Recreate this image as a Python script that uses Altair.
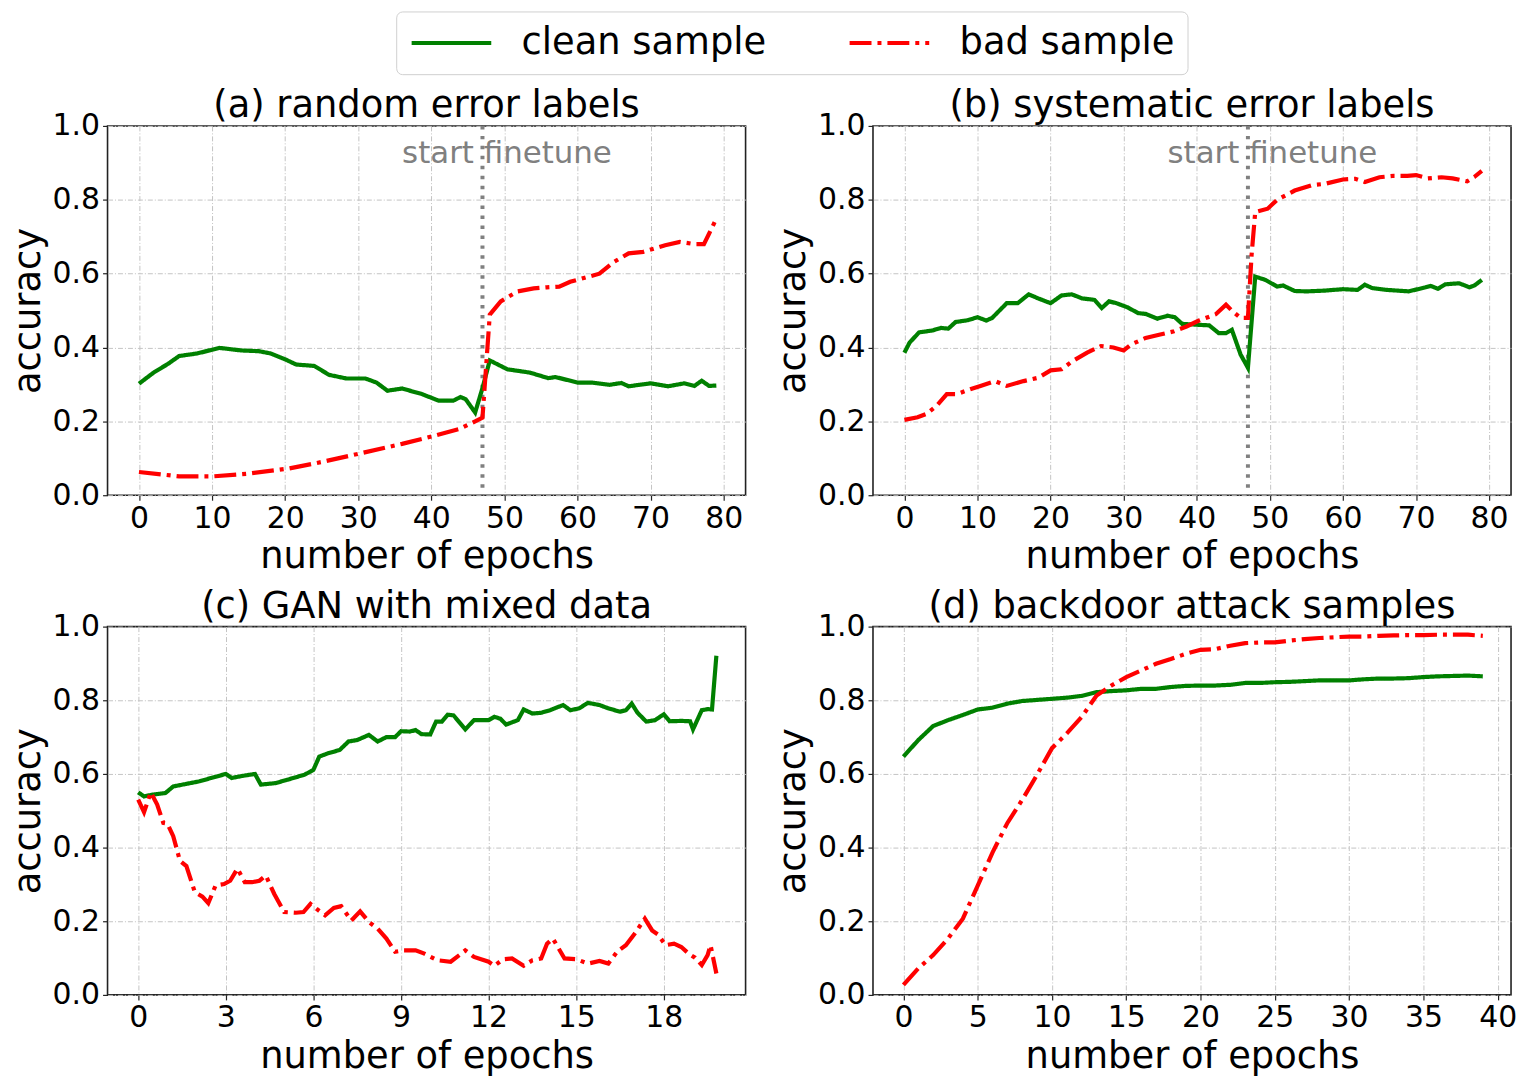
import altair as alt
import pandas as pd

FONT = "DejaVu Sans"
GREEN = "#008000"
RED = "#ff0000"
SERIES = ["clean sample", "bad sample"]

# ---------------- (a) random error labels ----------------
a_clean_x = [0, 2, 4, 5.5, 8, 11, 14, 16.4, 18, 20, 21.5, 24, 26, 28.4, 31, 32.5, 34, 36, 38.7, 41, 43, 44,
             44.7, 46, 47, 48, 50.4, 53.5, 56, 57, 60, 62, 64.4, 66, 67, 70, 72.4, 74.6, 76, 77, 78, 79]
a_clean_y = [0.302, 0.332, 0.356, 0.377, 0.384, 0.399, 0.392, 0.39, 0.384, 0.368, 0.354, 0.35, 0.326, 0.316,
             0.316, 0.305, 0.283, 0.289, 0.274, 0.256, 0.256, 0.266, 0.26, 0.224, 0.29, 0.365, 0.341, 0.332,
             0.317, 0.32, 0.305, 0.305, 0.299, 0.304, 0.295, 0.303, 0.295, 0.303, 0.296, 0.31, 0.296, 0.297]
a_bad_x = [0, 5.5, 10, 14.7, 20.4, 25, 30, 36, 40.4, 43.8, 46, 47, 48, 49.5, 51.8, 54, 55.8, 57.5, 59, 61, 63,
           65, 67, 69, 72, 74, 76, 77.3, 78, 79]
a_bad_y = [0.063, 0.051, 0.051, 0.058, 0.072, 0.09, 0.112, 0.139, 0.161, 0.179, 0.2, 0.21, 0.489, 0.525, 0.552,
           0.56, 0.563, 0.565, 0.578, 0.589, 0.6, 0.632, 0.655, 0.659, 0.677, 0.686, 0.68, 0.68, 0.708, 0.749]

# ---------------- (b) systematic error labels ----------------
b_clean_x = [0, 0.7, 2, 3.8, 5, 6, 7, 8.7, 10, 11.2, 12, 14, 15.5, 17, 18.3, 20, 21.5, 22.9, 24.3, 26, 27, 28,
             29, 30.5, 32, 33, 34.6, 36, 37, 38, 39.7, 41.7, 43, 44, 44.8, 46, 47, 48, 49.4, 51, 51.8, 53.4, 55,
             57.5, 60, 62, 63, 64, 66, 69, 71.3, 72, 73, 74, 75.9, 77.3, 78, 79]
b_clean_y = [0.386, 0.413, 0.441, 0.446, 0.453, 0.451, 0.469, 0.474, 0.482, 0.473, 0.48, 0.52, 0.52, 0.544,
             0.533, 0.52, 0.541, 0.544, 0.533, 0.529, 0.507, 0.525, 0.52, 0.509, 0.493, 0.491, 0.478, 0.486,
             0.482, 0.464, 0.462, 0.46, 0.439, 0.439, 0.448, 0.381, 0.345, 0.592, 0.583, 0.565, 0.568, 0.553,
             0.552, 0.554, 0.558, 0.556, 0.57, 0.561, 0.556, 0.552, 0.563, 0.567, 0.559, 0.571, 0.574, 0.563,
             0.568, 0.583]
b_bad_x = [0, 1.8, 3, 4.4, 5.8, 7.2, 9, 10.4, 12.4, 14, 16.3, 18.3, 20, 21.5, 23, 25, 26.9, 28.6, 30, 31, 33,
           35, 36.9, 38.6, 40.3, 42.6, 44, 44.8, 46, 47, 47.5, 48, 49.7, 51, 53.4, 55.8, 57.5, 60, 61.7, 63, 65,
           67, 68.8, 70, 71.6, 73.5, 75, 77, 78, 79]
b_bad_y = [0.204, 0.211, 0.22, 0.242, 0.274, 0.274, 0.287, 0.296, 0.309, 0.296, 0.309, 0.318, 0.338, 0.341,
           0.363, 0.386, 0.404, 0.4, 0.392, 0.408, 0.426, 0.435, 0.444, 0.457, 0.473, 0.49, 0.516, 0.5, 0.48,
           0.48, 0.65, 0.767, 0.776, 0.8, 0.825, 0.84, 0.843, 0.855, 0.857, 0.848, 0.861, 0.865, 0.865, 0.867,
           0.858, 0.861, 0.858, 0.85, 0.862, 0.878]

# ---------------- (c) GAN with mixed data ----------------
c_clean_x = [0, 0.2, 0.5, 0.93, 1.2, 1.65, 2.1, 2.5, 3.0, 3.2, 3.6, 4.0, 4.2, 4.7, 5.1, 5.7, 6.0, 6.2, 6.5, 6.9,
             7.2, 7.5, 7.9, 8.2, 8.5, 8.8, 9.0, 9.3, 9.5, 9.7, 10.0, 10.2, 10.4, 10.6, 10.8, 11.2, 11.5, 12.0,
             12.2, 12.4, 12.6, 13.0, 13.2, 13.5, 13.8, 14.1, 14.55, 14.8, 15.1, 15.4, 15.8, 16.1, 16.5, 16.7,
             16.9, 17.1, 17.4, 17.7, 18.0, 18.2, 18.6, 18.9, 19.0, 19.3, 19.5, 19.65, 19.8]
c_clean_y = [0.55, 0.539, 0.544, 0.548, 0.566, 0.573, 0.58, 0.589, 0.6, 0.589, 0.595, 0.6, 0.571, 0.575, 0.584,
             0.598, 0.611, 0.647, 0.656, 0.665, 0.688, 0.692, 0.706, 0.688, 0.7, 0.7, 0.716, 0.715, 0.719, 0.708,
             0.707, 0.742, 0.742, 0.761, 0.759, 0.721, 0.746, 0.746, 0.755, 0.75, 0.734, 0.746, 0.775, 0.764,
             0.766, 0.773, 0.787, 0.773, 0.778, 0.793, 0.787, 0.778, 0.769, 0.773, 0.791, 0.766, 0.742, 0.746,
             0.762, 0.743, 0.744, 0.743, 0.721, 0.773, 0.776, 0.775, 0.921]
c_bad_x = [0, 0.2, 0.43, 0.65, 0.86, 1.0, 1.2, 1.43, 1.65, 1.94, 2.2, 2.4, 2.65, 2.94, 3.15, 3.4, 3.65, 3.9,
           4.15, 4.37, 4.66, 5.0, 5.4, 5.66, 5.9, 6.1, 6.4, 6.7, 6.95, 7.3, 7.6, 7.9, 8.2, 8.5, 8.8, 9.1, 9.5,
           9.8, 10.25, 10.7, 11.0, 11.2, 11.5, 12.0, 12.2, 12.5, 12.8, 13.2, 13.5, 13.8, 14.0, 14.2, 14.4, 14.6,
           15.0, 15.4, 15.8, 16.1, 16.4, 16.7, 17.0, 17.35, 17.6, 17.8, 18.06, 18.35, 18.6, 18.85, 19.07, 19.3,
           19.5, 19.6, 19.8]
c_bad_y = [0.53, 0.496, 0.55, 0.517, 0.467, 0.465, 0.431, 0.364, 0.35, 0.279, 0.267, 0.249, 0.297, 0.301, 0.31,
           0.343, 0.306, 0.306, 0.31, 0.324, 0.274, 0.225, 0.223, 0.225, 0.247, 0.234, 0.216, 0.236, 0.241,
           0.202, 0.227, 0.198, 0.18, 0.153, 0.117, 0.121, 0.121, 0.112, 0.094, 0.09, 0.108, 0.121, 0.103, 0.09,
           0.079, 0.097, 0.099, 0.079, 0.094, 0.099, 0.139, 0.153, 0.126, 0.099, 0.097, 0.085, 0.092, 0.085,
           0.117, 0.135, 0.166, 0.207, 0.175, 0.164, 0.135, 0.139, 0.13, 0.112, 0.101, 0.081, 0.108, 0.135,
           0.058]

# ---------------- (d) backdoor attack samples ----------------
d_x = list(range(40))
d_clean_y = [0.647, 0.692, 0.73, 0.746, 0.76, 0.775, 0.78, 0.791, 0.798, 0.801, 0.804, 0.807, 0.812, 0.822,
             0.825, 0.827, 0.831, 0.831, 0.836, 0.839, 0.84, 0.84, 0.842, 0.847, 0.847, 0.849, 0.85, 0.852,
             0.854, 0.854, 0.854, 0.857, 0.859, 0.859, 0.86, 0.863, 0.865, 0.866, 0.867, 0.865]
d_bad_y = [0.027, 0.072, 0.108, 0.153, 0.207, 0.297, 0.387, 0.467, 0.53, 0.598, 0.67, 0.71, 0.755, 0.813,
           0.84, 0.863, 0.881, 0.899, 0.912, 0.926, 0.937, 0.939, 0.948, 0.955, 0.957, 0.957, 0.962, 0.966,
           0.969, 0.971, 0.973, 0.973, 0.975, 0.976, 0.977, 0.977, 0.978, 0.978, 0.978, 0.975]

y_ticks = [0.0, 0.2, 0.4, 0.6, 0.8, 1.0]
finetune_epoch = [47]
annot_x = [36]
annot_y = [0.9]
annot_text = ["start finetune"]

W = 641
H_TOP, H_BOTTOM = 371, 370


def frame(xc, yc, xb, yb):
    rows = [{"epoch": x, "acc": y, "series": SERIES[0], "order": i} for i, (x, y) in enumerate(zip(xc, yc))]
    rows += [{"epoch": x, "acc": y, "series": SERIES[1], "order": i} for i, (x, y) in enumerate(zip(xb, yb))]
    return pd.DataFrame(rows)


LEGEND = alt.Legend(title=None, orient="none", legendX=290, legendY=-115, direction="horizontal")


def panel(title, df, xdomain, xticks, height, finetune=False):
    xs = alt.Scale(domain=xdomain, nice=False, zero=False)
    ys = alt.Scale(domain=[0, 1], nice=False)
    xaxis = alt.Axis(values=xticks, title="number of epochs", format="d")
    yaxis = alt.Axis(values=y_ticks, title="accuracy", format=".1f")
    layers = []
    if finetune:
        rule_df = pd.DataFrame({"epoch": finetune_epoch})
        layers.append(
            alt.Chart(rule_df).mark_rule(color="#808080", strokeWidth=4, strokeDash=[3.5, 6.5]).encode(
                x=alt.X("epoch:Q", scale=xs, axis=xaxis)
            )
        )
    lines = alt.Chart(df).mark_line(strokeWidth=4.2, strokeCap="butt").encode(
        x=alt.X("epoch:Q", scale=xs, axis=xaxis),
        y=alt.Y("acc:Q", scale=ys, axis=yaxis),
        order="order:Q",
        color=alt.Color("series:N", scale=alt.Scale(domain=SERIES, range=[GREEN, RED]), legend=LEGEND),
        strokeDash=alt.StrokeDash("series:N", scale=alt.Scale(domain=SERIES, range=[[1, 0], [22, 6, 4, 6]]),
                                  legend=LEGEND),
    )
    layers.append(lines)
    if finetune:
        tdf = pd.DataFrame({"epoch": annot_x, "acc": annot_y, "label": annot_text})
        layers.append(
            alt.Chart(tdf).mark_text(align="left", baseline="alphabetic", fontSize=31, color="#808080",
                                     font=FONT).encode(
                x=alt.X("epoch:Q", scale=xs, axis=xaxis),
                y=alt.Y("acc:Q", scale=ys, axis=yaxis),
                text="label:N",
            )
        )
    return alt.layer(*layers).properties(
        width=W, height=height,
        title=alt.TitleParams(title, fontSize=37, font=FONT, fontWeight="normal", color="black", offset=-14),
    )


pa = panel("(a) random error labels", frame(a_clean_x, a_clean_y, a_bad_x, a_bad_y), [-4.3, 83],
           [0, 10, 20, 30, 40, 50, 60, 70, 80], H_TOP, True)
pb = panel("(b) systematic error labels", frame(b_clean_x, b_clean_y, b_bad_x, b_bad_y), [-4.3, 83],
           [0, 10, 20, 30, 40, 50, 60, 70, 80], H_TOP, True)
pc = panel("(c) GAN with mixed data", frame(c_clean_x, c_clean_y, c_bad_x, c_bad_y), [-1.05, 20.8],
           [0, 3, 6, 9, 12, 15, 18], H_BOTTOM)
pd_ = panel("(d) backdoor attack samples", frame(d_x, d_clean_y, d_x, d_bad_y), [-2.05, 40.9],
            [0, 5, 10, 15, 20, 25, 30, 35, 40], H_BOTTOM)

chart = alt.vconcat(
    alt.hconcat(pa, pb, spacing=27),
    alt.hconcat(pc, pd_, spacing=27),
    spacing=11,
).configure(
    font=FONT, padding=0
).configure_view(
    stroke="#222222", strokeWidth=1.6
).configure_axis(
    labelFontSize=30, titleFontSize=37, labelFont=FONT, titleFont=FONT, labelColor="black",
    titleColor="black", titleFontWeight="normal", domain=False, tickColor="#222222", tickSize=5,
    tickWidth=1.2, labelPadding=3, titlePadding=5,
    grid=True, gridColor="#c4c4c4", gridDash=[5, 2, 1, 2], gridWidth=1,
).configure_axisX(titlePadding=6).configure_legend(
    labelFontSize=37, labelFont=FONT, labelColor="black", symbolType="M-1,0L4,0", symbolSize=1024,
    symbolStrokeWidth=4, columnPadding=75, labelOffset=76, padding=13, strokeColor="#d0d0d0",
    cornerRadius=6, fillColor="white", labelLimit=400,
)

chart.save("out.html", embed_options={"renderer": "svg", "actions": False})
